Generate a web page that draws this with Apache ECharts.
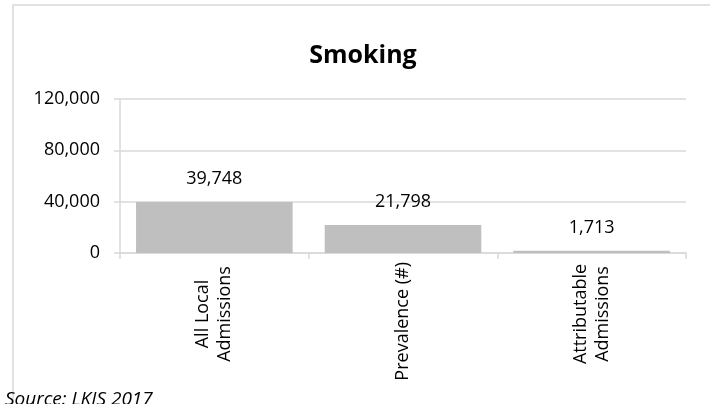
<!DOCTYPE html>
<html>
<head>
<meta charset="utf-8">
<script src="https://cdn.jsdelivr.net/npm/echarts@6/dist/echarts.min.js"></script>
<style>
  html, body { margin: 0; padding: 0; background: #fff; }
  #chart { width: 710px; height: 404px; }
</style>
</head>
<body>
<div id="chart"></div>
<script>
// Smoking-related admissions (source: LKIS 2017)
const categories = ['All Local\nAdmissions', 'Prevalence (#)', 'Attributable\nAdmissions'];
const values = [39748, 21798, 1713];
const yTicks = { min: 0, max: 120000, interval: 40000 };
const titleText = 'Smoking';
const sourceText = 'Source: LKIS 2017';

const FONT = '"Open Sans", "Noto Sans", sans-serif';
const GRID_COLOR = '#d9d9d9';
const fmt = v => v.toLocaleString('en-US');

const chart = echarts.init(document.getElementById('chart'), null, { renderer: 'canvas' });

chart.setOption({
  animation: false,
  backgroundColor: '#ffffff',
  textStyle: { fontFamily: FONT },
  title: {
    text: titleText,
    left: 363,
    top: 43,
    textAlign: 'center',
    padding: 0,
    textStyle: { fontFamily: FONT, fontWeight: 'bold', fontSize: 25, color: '#000' }
  },
  grid: { left: 120, right: 24, top: 99, bottom: 151, containLabel: false },
  xAxis: {
    type: 'category',
    data: categories,
    boundaryGap: true,
    axisLine: { show: true, lineStyle: { color: GRID_COLOR, width: 1.5 } },
    axisTick: { show: true, alignWithLabel: false, length: 6, lineStyle: { color: GRID_COLOR, width: 1.5 } },
    axisLabel: {
      rotate: 90,
      margin: 9,
      interval: 0,
      fontFamily: FONT,
      fontSize: 18,
      color: '#000',
      lineHeight: 22,
      formatter: function (v) {
        if (v.indexOf('\n') < 0) return v;
        return v.split('\n').map(s => '{c|' + s + '}').join('\n');
      },
      rich: {
        c: { width: 104, align: 'center', fontFamily: FONT, fontSize: 18, color: '#000', lineHeight: 22 }
      }
    }
  },
  yAxis: {
    type: 'value',
    min: yTicks.min,
    max: yTicks.max,
    interval: yTicks.interval,
    axisLine: { show: true, lineStyle: { color: GRID_COLOR, width: 1.5 } },
    axisTick: { show: true, length: 6, lineStyle: { color: GRID_COLOR, width: 1.5 } },
    splitLine: { show: true, lineStyle: { color: GRID_COLOR, width: 1.5 } },
    axisLabel: {
      margin: 20,
      fontFamily: FONT,
      fontSize: 18,
      color: '#000',
      formatter: fmt
    }
  },
  series: [{
    type: 'bar',
    data: values,
    barCategoryGap: '17%',
    itemStyle: { color: '#bfbfbf' },
    label: {
      show: true,
      position: 'top',
      distance: 14,
      fontFamily: FONT,
      fontSize: 18,
      color: '#000',
      formatter: p => fmt(p.value)
    }
  }],
  graphic: [
    {
      type: 'rect',
      silent: true,
      z: -1,
      shape: { x: 13, y: 5, width: 720, height: 440 },
      style: { fill: 'none', stroke: GRID_COLOR, lineWidth: 1.5 }
    },
    {
      type: 'text',
      left: 5,
      top: 390,
      style: {
        text: sourceText,
        font: 'italic 19px ' + FONT,
        fill: '#000'
      }
    }
  ]
});
</script>
</body>
</html>
